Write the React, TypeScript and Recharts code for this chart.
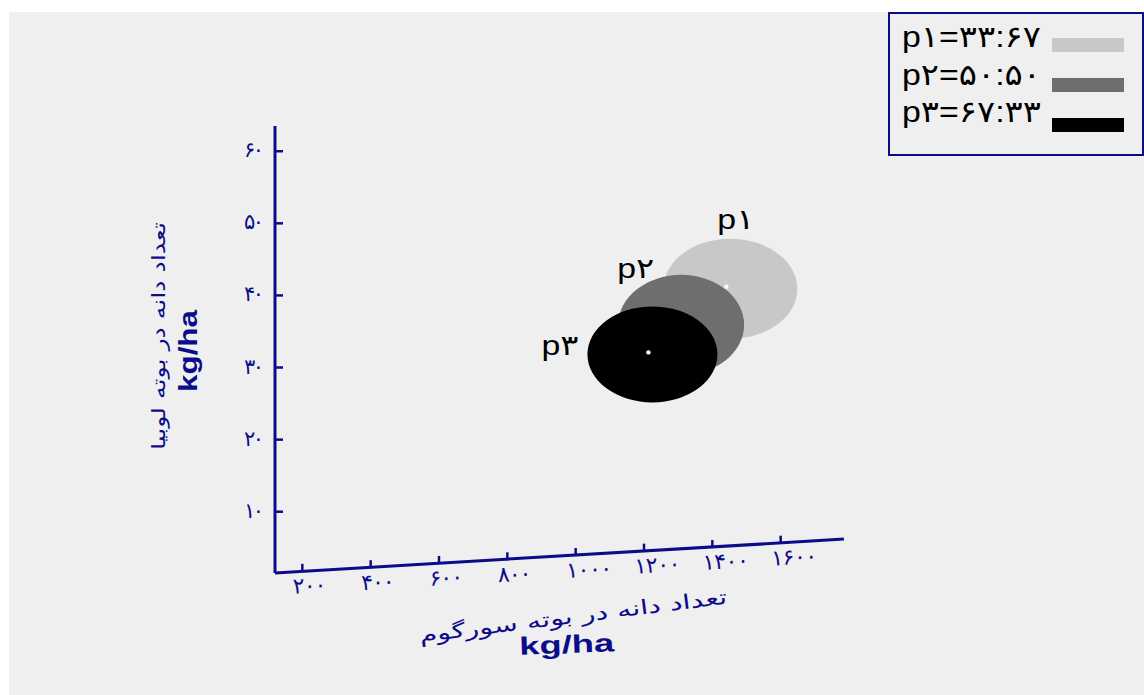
import React from "react";
import { ScatterChart, Scatter, XAxis, YAxis, ReferenceLine, Legend } from "recharts";

// mixture ratios (sorghum : bean) and the seed yields
const mixtures = ["p۱", "p۲", "p۳"];
const ratios = ["۳۳:۶۷", "۵۰:۵۰", "۶۷:۳۳"];
const sorghumSeeds = [1441, 1297, 1213];
const beanSeeds = [41.2, 36.2, 32.1];

const xTicks = [200, 400, 600, 800, 1000, 1200, 1400, 1600];
const xTickLabels = ["۲۰۰", "۴۰۰", "۶۰۰", "۸۰۰", "۱۰۰۰", "۱۲۰۰", "۱۴۰۰", "۱۶۰۰"];
// the x axis is drawn slanted, so each tick sits a bit higher than the one before
const xTickBase = [1.8, 2.3, 2.9, 3.4, 4.0, 4.6, 5.1, 5.7];
const xAxisEnds = [
  { x: 120, y: 1.5 },
  { x: 1785, y: 6.2 },
];

const yTicks = [10, 20, 30, 40, 50, 60];
const yTickLabels = ["۱۰", "۲۰", "۳۰", "۴۰", "۵۰", "۶۰"];

const NAVY = "#0c0c8a";
const PERSIAN = "'DejaVu Sans', sans-serif";
const LATIN = "'Liberation Sans', Arial, 'DejaVu Sans', sans-serif";

const mixStyles = [
  { fill: "#c8c8c8", rx: 67, ry: 50, labelDx: -9, labelDy: -58 },
  { fill: "#6e6e6e", rx: 63, ry: 50, labelDx: -60, labelDy: -45 },
  { fill: "#000000", rx: 65, ry: 48, labelDx: -107, labelDy: 3 },
];

const mixShape = (i: number) => (props: any) => {
  const { cx, cy } = props;
  const s = mixStyles[i];
  return (
    <g>
      <ellipse cx={cx + 4} cy={cy + 2} rx={s.rx} ry={s.ry} fill={s.fill} />
      <circle cx={cx} cy={cy} r={2.2} fill="#f2fff2" />
      <text
        x={cx + s.labelDx}
        y={cy + s.labelDy}
        fontFamily={LATIN}
        fontSize={28}
        fill="#000"
        textLength={37}
        lengthAdjust="spacingAndGlyphs"
      >
        {mixtures[i]}
      </text>
    </g>
  );
};

// digits in the original are spread wide apart; textLength keeps that gap
const xTickShape = (props: any) => {
  const { cx, cy, payload } = props;
  return (
    <g>
      <line x1={cx} y1={cy + 1} x2={cx} y2={cy - 7} stroke={NAVY} strokeWidth={2.5} />
      <text
        transform={`translate(${cx - 9},${cy + 23}) rotate(-3.5)`}
        fontFamily={PERSIAN}
        fontSize={22}
        textLength={payload.label.length * 12.5 - 4}
        lengthAdjust="spacing"
        fill={NAVY}
      >
        {payload.label}
      </text>
    </g>
  );
};

const YTick = (props: any) => {
  const { x, y, payload } = props;
  const i = yTicks.indexOf(payload.value);
  return (
    <g>
      <line x1={x + 7} y1={y} x2={x + 15} y2={y} stroke={NAVY} strokeWidth={2.5} />
      <text
        x={x - 24}
        y={y}
        dy={6}
        fontFamily={PERSIAN}
        fontSize={21}
        textLength={20}
        lengthAdjust="spacing"
        fill={NAVY}
      >
        {yTickLabels[i]}
      </text>
    </g>
  );
};

const renderYTitle = () => (
  <g fill={NAVY}>
    <text
      transform="translate(165,336) rotate(-90)"
      textAnchor="middle"
      fontFamily={PERSIAN}
      fontSize={19}
      textLength={228}
      lengthAdjust="spacingAndGlyphs"
    >
      تعداد دانه در بوته لوبیا
    </text>
    <text
      transform="translate(197,351) rotate(-90)"
      textAnchor="middle"
      fontFamily={LATIN}
      fontWeight="bold"
      fontSize={25}
      textLength={82}
      lengthAdjust="spacingAndGlyphs"
    >
      kg/ha
    </text>
  </g>
);

const renderXTitle = () => (
  <g fill={NAVY}>
    <text
      transform="translate(574,623) rotate(-7.2)"
      textAnchor="middle"
      fontFamily={PERSIAN}
      fontSize={20}
      textLength={310}
      lengthAdjust="spacingAndGlyphs"
    >
      تعداد دانه در بوته سورگوم
    </text>
    <text
      transform="translate(567,653) rotate(-2)"
      textAnchor="middle"
      fontFamily={LATIN}
      fontWeight="bold"
      fontSize={25}
      textLength={95}
      lengthAdjust="spacingAndGlyphs"
    >
      kg/ha
    </text>
  </g>
);

const renderLegend = (props: any) => {
  const items = (props.payload || []).filter((p: any) => p.type !== "none");
  return (
    <svg width={256} height={144}>
      <rect x={1} y={1} width={254} height={142} fill="#efefef" stroke={NAVY} strokeWidth={2} />
      {items.map((item: any, i: number) => (
        <g key={i}>
          <text
            x={14}
            y={35 + i * 37.5}
            fontFamily={LATIN}
            fontSize={30}
            fill="#000"
            textLength={139}
            lengthAdjust="spacingAndGlyphs"
          >
            {item.value}
          </text>
          <rect x={164} y={26 + i * 40} width={72} height={14} fill={item.color} />
        </g>
      ))}
    </svg>
  );
};

export default function App() {
  const tickData = xTicks.map((x, i) => ({ x, y: xTickBase[i], label: xTickLabels[i] }));

  return (
    <div style={{ position: "fixed", left: 0, top: 0, width: 1144, height: 695, background: "#fff" }}>
      <div style={{ position: "absolute", left: 9, top: 12, right: 0, bottom: 0, background: "#efefef" }} />
      <div style={{ position: "absolute", left: 0, top: 0 }}>
        <ScatterChart width={1144} height={695} margin={{ top: 126, right: 295, bottom: 122, left: 0 }}>
          <XAxis type="number" dataKey="x" domain={[120, 1800]} hide />
          <YAxis
            type="number"
            dataKey="y"
            domain={[1.5, 63.5]}
            ticks={yTicks}
            width={275}
            tickSize={0}
            tickMargin={7}
            tickLine={false}
            axisLine={{ stroke: NAVY, strokeWidth: 3 }}
            tick={(p: any) => <YTick {...p} />}
            label={renderYTitle}
          />
          <ReferenceLine
            segment={xAxisEnds}
            stroke={NAVY}
            strokeWidth={3}
            label={renderXTitle}
          />
          <Legend
            layout="vertical"
            align="center"
            verticalAlign="middle"
            content={renderLegend}
            wrapperStyle={{ position: "absolute", left: 888, top: 12, width: 256, height: 144 }}
          />
          <Scatter
            name="ticks"
            data={tickData}
            legendType="none"
            shape={xTickShape}
            isAnimationActive={false}
          />
          {mixtures.map((m, i) => (
            <Scatter
              key={m}
              name={`${m}=${ratios[i]}`}
              data={[{ x: sorghumSeeds[i], y: beanSeeds[i] }]}
              fill={mixStyles[i].fill}
              shape={mixShape(i)}
              isAnimationActive={false}
            />
          ))}
        </ScatterChart>
      </div>
    </div>
  );
}
